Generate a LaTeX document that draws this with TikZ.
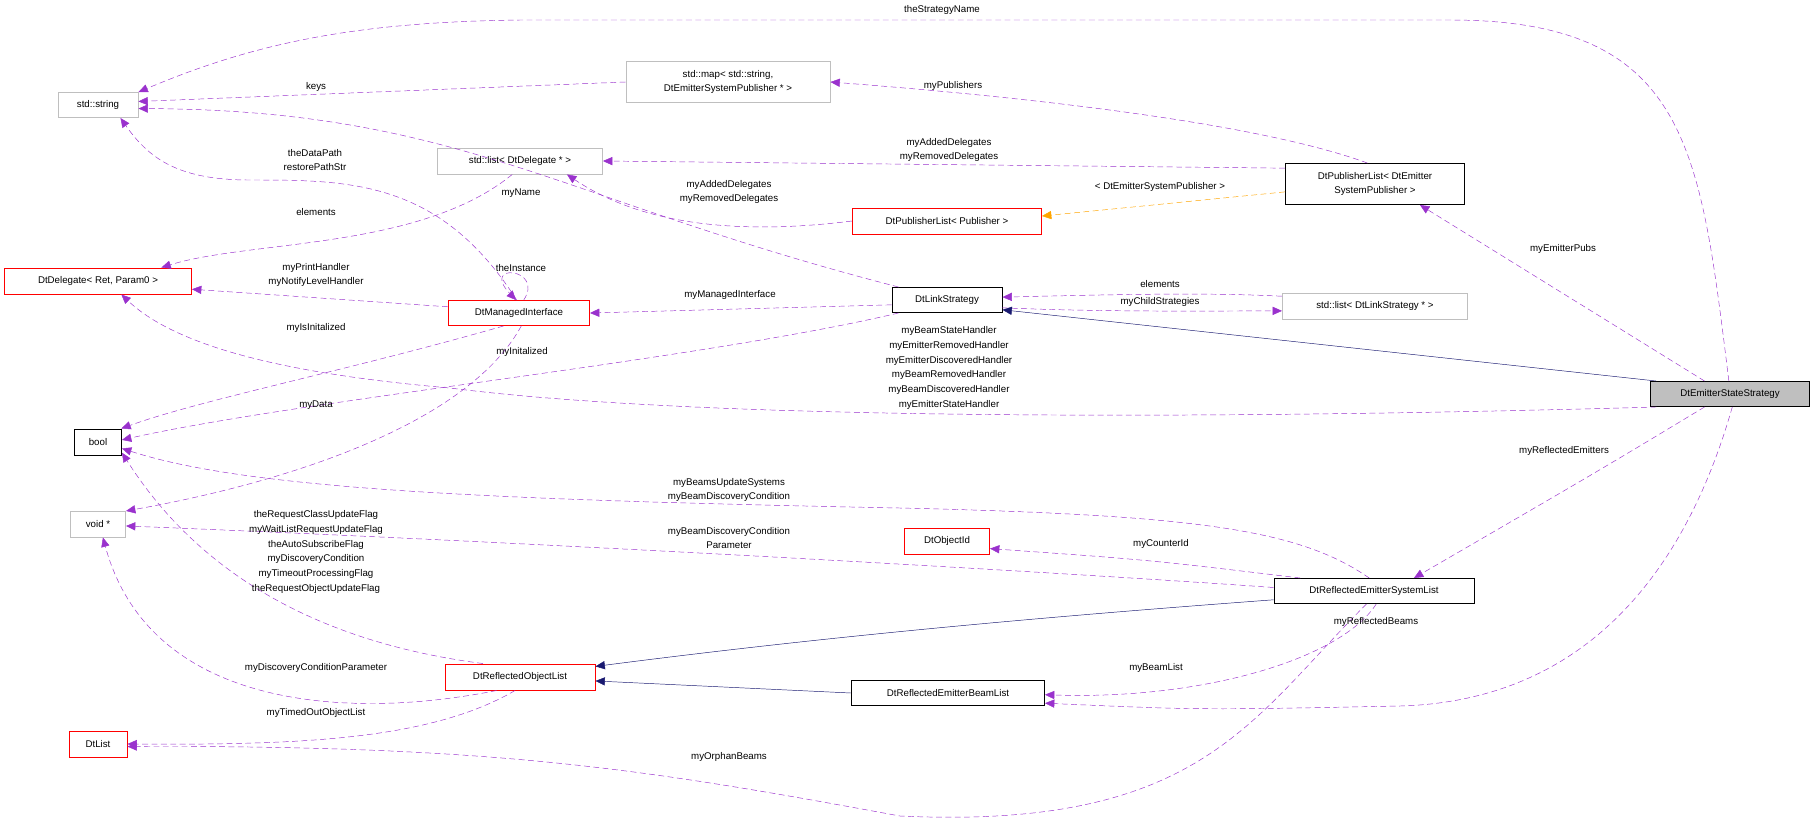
\documentclass[tikz,border=0pt]{standalone}
\usepackage{fontspec}
\setmainfont{Liberation Sans}
\usetikzlibrary{arrows.meta}
\definecolor{dep}{HTML}{9A32CD}
\definecolor{inhc}{HTML}{191970}
\definecolor{tmpl}{HTML}{FFA500}
\definecolor{gbord}{HTML}{BFBFBF}
\begin{document}
\begin{tikzpicture}[x=0.03cm,y=-0.03cm,
  font=\fontsize{8.3}{12.5}\selectfont,
  bx/.style 2 args={draw=black,thick,fill=white,inner sep=1pt,align=center,minimum width=#1*0.03cm,minimum height=#2*0.03cm},
  gb/.style 2 args={bx={#1}{#2},draw=gbord},
  rb/.style 2 args={bx={#1}{#2},draw=red},
  rt/.style 2 args={bx={#1}{#2},fill=gbord},
  lbl/.style={align=center,inner sep=0pt},
  dep/.style={draw=dep,dashed,dash pattern=on 5pt off 3pt,-{Triangle[length=8pt,width=7pt,fill=dep]}},
  inh/.style={draw=inhc,-{Triangle[length=8pt,width=7pt,fill=inhc]}},
  tp/.style={draw=tmpl,dashed,dash pattern=on 5pt off 3pt,-{Triangle[length=8pt,width=7pt,fill=tmpl]}}]
\useasboundingbox (0,0) rectangle (1816,826);
% nodes
\node[gb={80}{25}] (string) at (98,105) {std::string};
\node[gb={204}{41}] (map) at (728,82) {std::map< std::string,\\ DtEmitterSystemPublisher * >};
\node[gb={165}{26}] (listDel) at (520,161) {std::list< DtDelegate * >};
\node[rb={187}{26}] (deleg) at (98,281) {DtDelegate< Ret, Param0 >};
\node[rb={141}{25}] (mi) at (519,313) {DtManagedInterface};
\node[bx={179}{41}] (pubE) at (1375,184) {DtPublisherList< DtEmitter\\ SystemPublisher >};
\node[rb={189}{26}] (pubP) at (947,221) {DtPublisherList< Publisher >};
\node[bx={110}{25}] (link) at (947,300) {DtLinkStrategy};
\node[gb={185}{26}] (listLink) at (1375,306) {std::list< DtLinkStrategy * >};
\node[rt={159}{25}] (root) at (1730,394) {DtEmitterStateStrategy};
\node[rb={85}{26}] (objId) at (947,541) {DtObjectId};
\node[bx={200}{25}] (resl) at (1374,591) {DtReflectedEmitterSystemList};
\node[bx={47}{26}] (bool) at (98,442) {bool};
\node[gb={55}{26}] (void) at (98,524) {void *};
\node[rb={150}{26}] (rol) at (520,677) {DtReflectedObjectList};
\node[bx={193}{25}] (rebl) at (948,693) {DtReflectedEmitterBeamList};
\node[rb={58}{26}] (dtlist) at (98,744) {DtList};
% edges
\begin{scope}[on background layer/.style={}]
\draw[dep] (root.95) .. controls (1700,150) and (1690,20) .. (1450,20) -- (520,20) .. controls (350,22) and (250,45) .. (string.north east);
\draw[dep] (map.west) -- (string.5);
\draw[dep] (pubE.110) .. controls (1250,120) and (1000,95) .. (map.east);
\draw[dep] (pubE.170) -- (listDel.east);
\draw[dep] (pubP.west) .. controls (700,240) and (620,210) .. (listDel.-16);
\draw[tp] (pubE.185) -- (pubP.3);
\draw[dep] (link.165) .. controls (560,200) and (460,110) .. (string.-5);
\draw[dep] (mi.100) .. controls (440,180) and (350,180) .. (250,180) .. controls (180,180) and (150,160) .. (string.-30);
\draw[dep] (listDel.240) .. controls (420,250) and (250,240) .. (deleg.12);
\draw[dep] (mi.175) -- (deleg.-5);
\draw[dep] (mi.70) .. controls (545,268) and (480,262) .. (mi.103);
\draw[dep] (link.185) -- (mi.east);
\draw[dep] (root.190) .. controls (1200,420) and (700,420) .. (450,388) .. controls (300,375) and (180,350) .. (deleg.-30);
\draw[dep] (mi.220) .. controls (350,370) and (200,400) .. (bool.30);
\draw[dep] (link.195) .. controls (700,360) and (300,400) .. (bool.5);
\draw[dep] (mi.280) .. controls (470,420) and (300,480) .. (void.25);
\draw[dep] (listLink.174) .. controls (1200,292) and (1100,295) .. (link.3);
\draw[dep] (link.-8) .. controls (1100,312) and (1200,311) .. (listLink.183);
\draw[inh] (root.170) -- (link.-10);
\draw[dep] (root.153) -- (pubE.-25);
\draw[dep] (root.-153) .. controls (1600,470) .. (resl.18);
\draw[dep] (root.-80) .. controls (1700,520) and (1620,700) .. (1400,706) .. controls (1200,710) .. (rebl.-6);
\draw[dep] (resl.110) .. controls (1300,530) and (1200,515) .. (900,508) .. controls (500,500) and (250,490) .. (bool.-15);
\draw[dep] (resl.178) .. controls (1100,575) and (600,545) .. (void.-4);
\draw[dep] (resl.170) .. controls (1150,560) .. (objId.-10);
\draw[inh] (resl.185) .. controls (1000,620) and (800,640) .. (rol.8);
\draw[inh] (rebl.west) -- (rol.-3);
\draw[dep] (resl.-80) .. controls (1340,660) and (1200,700) .. (rebl.-1);
\draw[dep] (resl.-120) .. controls (1250,720) and (1200,830) .. (900,816) .. controls (650,770) and (500,745) .. (dtlist.-5);
\draw[dep] (rol.160) .. controls (300,640) and (190,560) .. (bool.-24);
\draw[dep] (rol.-150) .. controls (350,720) and (150,710) .. (void.-70);
\draw[dep] (rol.-110) .. controls (430,740) and (300,745) .. (dtlist.east);
\end{scope}
% labels
\node[lbl] (l1) at (942,10) {theStrategyName};
\node[lbl] (l2) at (316,87) {keys};
\node[lbl] (l3) at (953,86) {myPublishers};
\node[lbl] (l4) at (315,160) {theDataPath\\restorePathStr};
\node[lbl] (l5) at (521,193) {myName};
\node[lbl] (l6) at (316,212) {elements};
\node[lbl] (l7) at (729,192) {myAddedDelegates\\myRemovedDelegates};
\node[lbl] (l8) at (949,150) {myAddedDelegates\\myRemovedDelegates};
\node[lbl] (l9) at (1160,187) {< DtEmitterSystemPublisher >};
\node[lbl] (l10) at (316,275) {myPrintHandler\\myNotifyLevelHandler};
\node[lbl] (l11) at (521,268) {theInstance};
\node[lbl] (l12) at (730,295) {myManagedInterface};
\node[lbl] (l13) at (316,328) {myIsInitalized};
\node[lbl] (l14) at (522,352) {myInitalized};
\node[lbl] (l15) at (316,405) {myData};
\node[lbl] (l16) at (1563,249) {myEmitterPubs};
\node[lbl] (l17) at (1160,284) {elements};
\node[lbl] (l18) at (1160,302) {myChildStrategies};
\node[lbl] (l19) at (949,368) {myBeamStateHandler\\myEmitterRemovedHandler\\myEmitterDiscoveredHandler\\myBeamRemovedHandler\\myBeamDiscoveredHandler\\myEmitterStateHandler};
\node[lbl] (l20) at (1564,451) {myReflectedEmitters};
\node[lbl] (l21) at (729,490) {myBeamsUpdateSystems\\myBeamDiscoveryCondition};
\node[lbl] (l22) at (729,538) {myBeamDiscoveryCondition\\Parameter};
\node[lbl] (l23) at (316,552) {theRequestClassUpdateFlag\\myWaitListRequestUpdateFlag\\theAutoSubscribeFlag\\myDiscoveryCondition\\myTimeoutProcessingFlag\\theRequestObjectUpdateFlag};
\node[lbl] (l24) at (1161,544) {myCounterId};
\node[lbl] (l25) at (1376,622) {myReflectedBeams};
\node[lbl] (l26) at (1156,668) {myBeamList};
\node[lbl] (l27) at (316,668) {myDiscoveryConditionParameter};
\node[lbl] (l28) at (316,713) {myTimedOutObjectList};
\node[lbl] (l29) at (729,757) {myOrphanBeams};
\end{tikzpicture}
\end{document}
